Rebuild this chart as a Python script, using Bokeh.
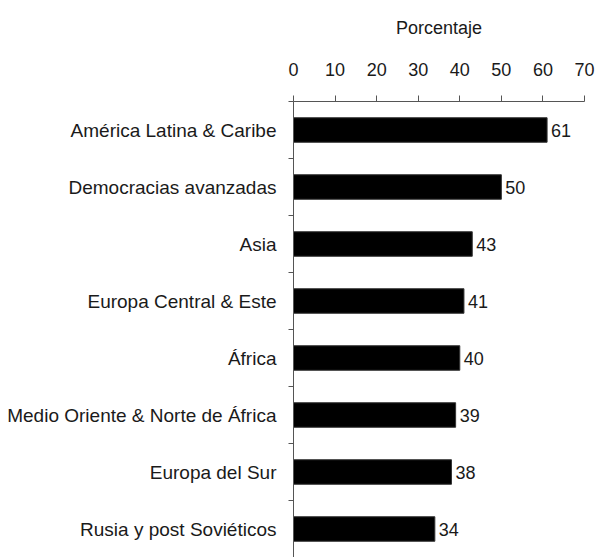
from bokeh.plotting import figure
from bokeh.models import ColumnDataSource, Range1d, FixedTicker
from bokeh.core.properties import value
from bokeh.embed import file_html
from bokeh.resources import INLINE

categories = ["América Latina & Caribe", "Democracias avanzadas", "Asia",
              "Europa Central & Este", "África",
              "Medio Oriente & Norte de África", "Europa del Sur",
              "Rusia y post Soviéticos"]
values = [61, 50, 43, 41, 40, 39, 38, 34]
x_ticks = [0, 10, 20, 30, 40, 50, 60, 70]
x_label = "Porcentaje"

FONT = "Liberation Sans"
TXT = "#1a1a1a"
AXC = "#555555"

n = len(categories)
# categorical slot centres (first category at top)
ypos = [n - i - 0.5 for i in range(n)]
src = ColumnDataSource(dict(y=ypos, val=values, lbl=[str(v) for v in values]))

p = figure(width=597, height=557,
           y_range=Range1d(0, n), x_range=Range1d(0, 70),
           x_axis_location="above",
           output_backend="svg", toolbar_location=None,
           min_border_left=293, min_border_right=13,
           min_border_top=101, min_border_bottom=0)
p.outline_line_color = None
p.xgrid.grid_line_color = None
p.ygrid.grid_line_color = None

xa = p.xaxis[0]
xa.ticker = FixedTicker(ticks=x_ticks)
xa.axis_label = x_label
xa.axis_label_text_font = FONT
xa.axis_label_text_font_style = "normal"
xa.axis_label_text_font_size = "18px"
xa.axis_label_text_color = TXT
xa.axis_label_standoff = 22
xa.major_label_text_font = FONT
xa.major_label_text_font_size = "18px"
xa.major_label_text_color = TXT
xa.major_label_standoff = 20
xa.major_tick_out = 6
xa.major_tick_in = 0
xa.minor_tick_line_color = None
xa.axis_line_color = AXC
xa.major_tick_line_color = AXC

ya = p.yaxis[0]
ya.ticker = FixedTicker(ticks=ypos, minor_ticks=list(range(n + 1)))
ya.major_label_overrides = {y: c for y, c in zip(ypos, categories)}
ya.major_tick_line_color = None
ya.major_tick_out = 0
ya.major_tick_in = 0
ya.minor_tick_out = 5
ya.minor_tick_in = 0
ya.minor_tick_line_color = AXC
ya.axis_line_color = AXC
ya.major_label_standoff = 12
ya.major_label_text_font = FONT
ya.major_label_text_font_size = "19px"
ya.major_label_text_color = TXT

p.hbar(y="y", left=0, right="val", height=0.43, source=src,
       fill_color="black", line_color="#333333")
p.text(x="val", y="y", text="lbl", source=src, x_offset=4,
       text_baseline="middle", text_align="left",
       text_font=value(FONT), text_font_size="18px", text_color=TXT)

open("out.html", "w").write(file_html(p, INLINE))
